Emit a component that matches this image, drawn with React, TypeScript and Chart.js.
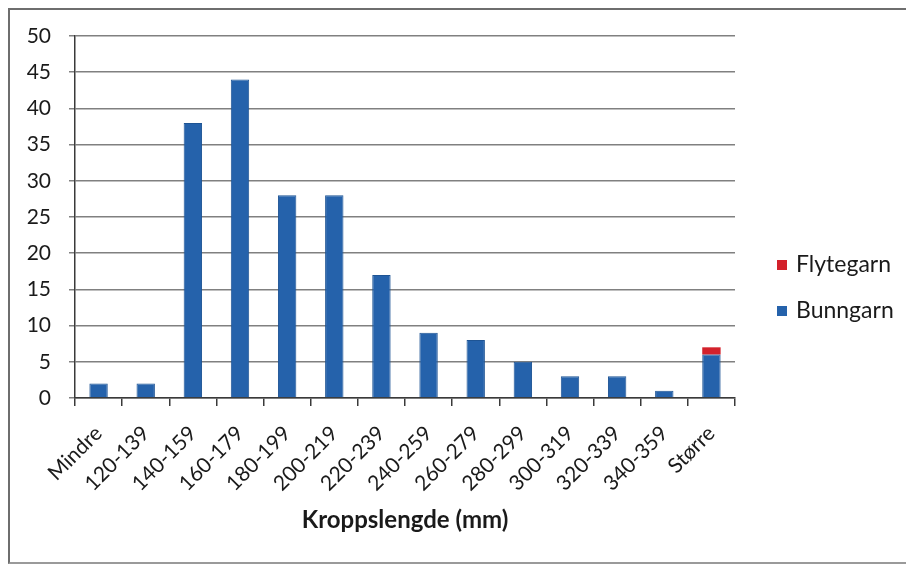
import React, { useEffect, useRef } from 'react';
import { Chart, registerables } from 'chart.js';

Chart.register(...registerables);

const categories = ['Mindre', '120-139', '140-159', '160-179', '180-199', '200-219', '220-239', '240-259', '260-279', '280-299', '300-319', '320-339', '340-359', 'Større'];
const bunngarn = [2, 2, 38, 44, 28, 28, 17, 9, 8, 5, 3, 3, 1, 6];
const flytegarn = [0, 0, 0, 0, 0, 0, 0, 0, 0, 0, 0, 0, 0, 1];
const yMax = 50;
const yStep = 5;
const xTitle = 'Kroppslengde (mm)';

const FONT = 'Lato, "Liberation Sans", sans-serif';

const legendPlugin = {
  id: 'customLegend',
  afterDraw(chart: any) {
    const ctx = chart.ctx;
    const area = chart.chartArea;
    const items = [...chart.data.datasets].reverse();
    ctx.save();
    ctx.font = `23px ${FONT}`;
    ctx.textBaseline = 'middle';
    ctx.textAlign = 'left';
    items.forEach((ds: any, i: number) => {
      const y = 255 + i * 46;
      const x = area.right + 42;
      ctx.fillStyle = ds.backgroundColor;
      ctx.fillRect(x, y - 5, 10, 10);
      ctx.fillStyle = '#1a1a1a';
      ctx.fillText(ds.label, x + 19, y);
    });
    ctx.restore();
  },
};

export default function App() {
  const ref = useRef<HTMLCanvasElement>(null);
  useEffect(() => {
    if (!ref.current) return;
    const chart = new Chart(ref.current, {
      type: 'bar',
      data: {
        labels: categories,
        datasets: [
          { label: 'Bunngarn', data: bunngarn, backgroundColor: '#2562ab', borderColor: '#1e5494', borderWidth: 1 },
          { label: 'Flytegarn', data: flytegarn, backgroundColor: '#d3212b', borderColor: '#b51a22', borderWidth: 0 },
        ],
      },
      options: {
        animation: false,
        responsive: false,
        maintainAspectRatio: false,
        devicePixelRatio: 1,
        layout: { padding: { left: 0, right: 179, top: 26, bottom: 27 } },
        plugins: { legend: { display: false }, tooltip: { enabled: false } },
        datasets: { bar: { categoryPercentage: 1, barPercentage: 0.39 } },
        scales: {
          x: {
            stacked: true,
            grid: { offset: true, drawOnChartArea: false, drawTicks: true, tickLength: 8, color: '#3a3a3a', lineWidth: 1.5 },
            border: { display: true, color: '#3a3a3a', width: 1.5 },
            ticks: { color: '#1a1a1a', font: { family: FONT, size: 21 }, maxRotation: 45, minRotation: 45, padding: 15, autoSkip: false },
            title: { display: true, text: xTitle, color: '#1a1a1a', font: { family: FONT, size: 24, weight: 'bold' }, padding: { top: 0, bottom: 0 } },
            afterFit: (s: any) => { s.height = 137; s.paddingLeft = 0; },
          },
          y: {
            stacked: true,
            min: 0,
            max: yMax,
            grid: { color: '#808080', lineWidth: 1.5, drawTicks: true, tickLength: 6 },
            border: { display: true, color: '#3a3a3a', width: 1.5 },
            ticks: { stepSize: yStep, color: '#1a1a1a', font: { family: FONT, size: 21 }, padding: 18 },
            afterFit: (s: any) => { s.width = 65; s.paddingTop = 10; s.paddingBottom = 10; },
          },
        },
      },
      plugins: [legendPlugin],
    });
    return () => chart.destroy();
  }, []);

  return (
    <div style={{ width: 904, height: 552, borderLeft: '2px solid #6e6e6e', borderTop: '2px solid #6e6e6e', borderBottom: '2px solid #9a9a9a', background: '#fff' }}>
      <canvas ref={ref} width={904} height={552} style={{ display: 'block' }} />
    </div>
  );
}
